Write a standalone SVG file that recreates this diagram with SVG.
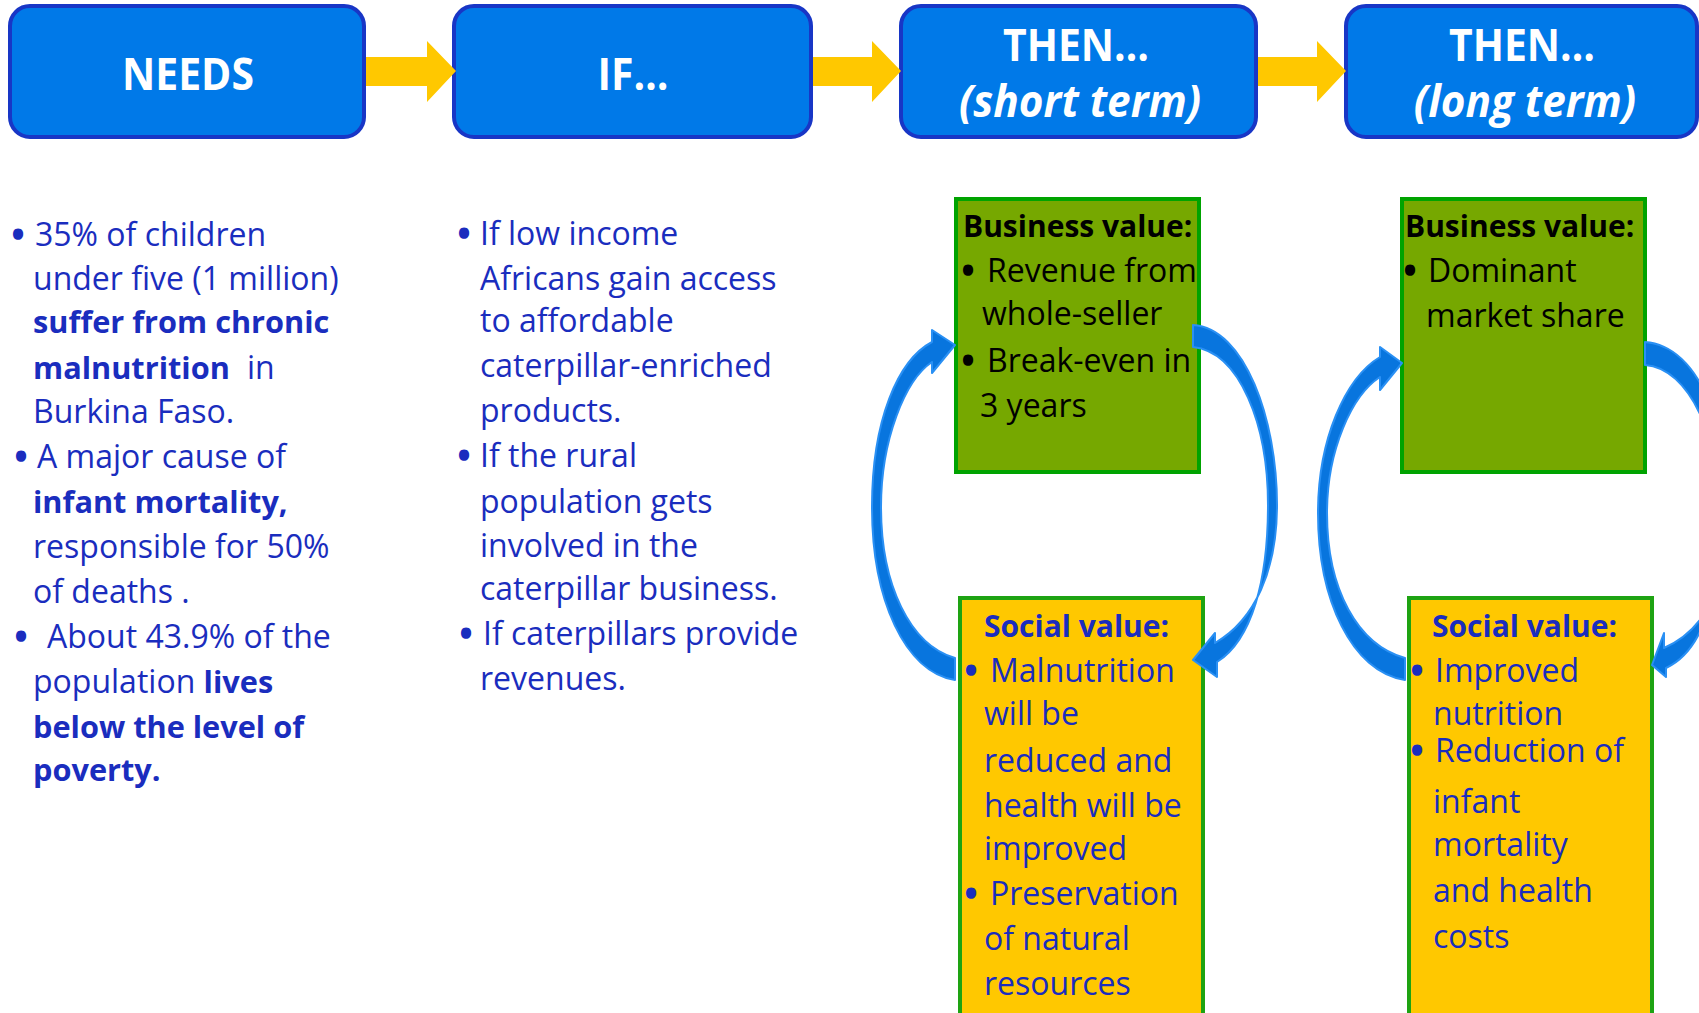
<svg xmlns="http://www.w3.org/2000/svg" width="1699" height="1013" viewBox="0 0 1699 1013">
  <style>
    .hdr { fill: #0079e8; stroke: #1836c6; stroke-width: 4; }
    .ht { font-family: "Open Sans", "Noto Sans", sans-serif; font-weight: 700; font-size: 44px; fill: #ffffff; text-anchor: middle; }
    .hti { font-style: italic; font-size: 45px; }
    .flow { fill: #ffc800; }
    .txt { font-family: "Open Sans", "Noto Sans", sans-serif; font-size: 32px; fill: #1a2dbe; }
    .b { font-weight: 700; font-size: 30.7px; }
    .bl { stroke: #1a2dbe; stroke-width: 3.5; }
    .k { fill: #000000; }
    .k .bl { stroke: #000000; }
    .ttl { font-weight: 700; font-size: 30px; }
    .biz { fill: #76a800; stroke: #00a300; stroke-width: 4; }
    .soc { fill: #ffc800; stroke: #1ea312; stroke-width: 4; }
    .cyc { fill: #0875de; stroke: #2a90f4; stroke-width: 2; stroke-linejoin: round; }
  </style>

  <!-- header row -->
  <g id="needs">
    <rect class="hdr" x="10" y="6" width="354" height="131" rx="20"/>
    <text class="ht" transform="translate(188,90) scale(0.93,1)">NEEDS</text>
  </g>
  <g id="if">
    <rect class="hdr" x="454" y="6" width="357" height="131" rx="20"/>
    <text class="ht" transform="translate(633,90) scale(0.93,1)">IF…</text>
  </g>
  <g id="then-short">
    <rect class="hdr" x="901" y="6" width="355" height="131" rx="20"/>
    <text class="ht" transform="translate(1076,61) scale(0.93,1)">THEN…</text>
    <text class="ht hti" transform="translate(1080,117) scale(0.94,1)">(short term)</text>
  </g>
  <g id="then-long">
    <rect class="hdr" x="1346" y="6" width="351" height="131" rx="20"/>
    <text class="ht" transform="translate(1522,61) scale(0.93,1)">THEN…</text>
    <text class="ht hti" transform="translate(1525,117) scale(0.94,1)">(long term)</text>
  </g>

  <!-- needs column -->
  <g id="needs-text" class="txt">
    <text x="12" y="246" class="bl">•</text>
    <text x="35" y="246">35% of children</text>
    <text x="33" y="290">under five (1 million)</text>
    <text x="33" y="333" class="b">suffer from chronic</text>
    <text x="33" y="379"><tspan class="b">malnutrition</tspan><tspan x="247">in</tspan></text>
    <text x="33" y="423">Burkina Faso.</text>
    <text x="15" y="468" class="bl">•</text>
    <text x="37" y="468">A major cause of</text>
    <text x="33" y="513" class="b">infant mortality,</text>
    <text x="33" y="558">responsible for 50%</text>
    <text x="33" y="603">of deaths .</text>
    <text x="15" y="648" class="bl">•</text>
    <text x="47" y="648">About 43.9% of the</text>
    <text x="33" y="693">population <tspan class="b">lives</tspan></text>
    <text x="33" y="738" class="b">below the level of</text>
    <text x="33" y="781" class="b">poverty.</text>
  </g>

  <!-- if column -->
  <g id="if-text" class="txt">
    <text x="458" y="245" class="bl">•</text>
    <text x="480" y="245">If low income</text>
    <text x="480" y="290">Africans gain access</text>
    <text x="480" y="332">to affordable</text>
    <text x="480" y="377">caterpillar-enriched</text>
    <text x="480" y="422">products.</text>
    <text x="458" y="467" class="bl">•</text>
    <text x="480" y="467">If the rural</text>
    <text x="480" y="513">population gets</text>
    <text x="480" y="557">involved in the</text>
    <text x="480" y="600">caterpillar business.</text>
    <text x="460" y="645" class="bl">•</text>
    <text x="483" y="645">If caterpillars provide</text>
    <text x="480" y="690">revenues.</text>
  </g>

  <!-- value boxes -->
  <g id="business-short">
    <rect class="biz" x="956" y="199" width="243" height="273"/>
    <g class="txt k">
      <text x="963" y="237" class="ttl">Business value:</text>
      <text x="962" y="282" class="bl">•</text>
      <text x="987" y="282">Revenue from</text>
      <text x="982" y="325">whole-seller</text>
      <text x="962" y="372" class="bl">•</text>
      <text x="987" y="372">Break-even in</text>
      <text x="980" y="417">3 years</text>
    </g>
  </g>
  <g id="social-short">
    <rect class="soc" x="960" y="598" width="243" height="430"/>
    <g class="txt">
      <text x="984" y="637" class="ttl">Social value:</text>
      <text x="965" y="682" class="bl">•</text>
      <text x="990" y="682">Malnutrition</text>
      <text x="984" y="725">will be</text>
      <text x="984" y="772">reduced and</text>
      <text x="984" y="817">health will be</text>
      <text x="984" y="860">improved</text>
      <text x="965" y="905" class="bl">•</text>
      <text x="990" y="905">Preservation</text>
      <text x="984" y="950">of natural</text>
      <text x="984" y="995">resources</text>
    </g>
  </g>
  <g id="business-long">
    <rect class="biz" x="1402" y="199" width="243" height="273"/>
    <g class="txt k">
      <text x="1405" y="237" class="ttl">Business value:</text>
      <text x="1404" y="282" class="bl">•</text>
      <text x="1428" y="282">Dominant</text>
      <text x="1426" y="327">market share</text>
    </g>
  </g>
  <g id="social-long">
    <rect class="soc" x="1409" y="598" width="243" height="430"/>
    <g class="txt">
      <text x="1432" y="637" class="ttl">Social value:</text>
      <text x="1411" y="682" class="bl">•</text>
      <text x="1435" y="682">Improved</text>
      <text x="1433" y="725">nutrition</text>
      <text x="1411" y="762" class="bl">•</text>
      <text x="1435" y="762">Reduction of</text>
      <text x="1433" y="813">infant</text>
      <text x="1433" y="856">mortality</text>
      <text x="1433" y="902">and health</text>
      <text x="1433" y="948">costs</text>
    </g>
  </g>

  <!-- connectors -->
  <g id="connectors">
    <!-- block arrows between header boxes -->
    <polygon class="flow" points="366,57 427,57 427,41 456,71 427,102 427,86 366,86"/>
    <polygon class="flow" points="813,57 872,57 872,41 901,71 872,102 872,86 813,86"/>
    <polygon class="flow" points="1258,57 1317,57 1317,41 1346,71 1317,102 1317,86 1258,86"/>
    <!-- short-term cycle -->
    <path class="cyc" d="M955,680 C905,672 872,600 872,507 C872,420 898,360 932,342 L932,330 L955,345 L932,373 L932,362 C905,380 881,440 881,507 C881,585 910,645 955,658 Z"/>
    <path class="cyc" d="M1193,325 C1245,328 1277,420 1277,505 C1277,570 1255,620 1215,643 L1215,633 L1193,660 L1217,677 L1217,662 C1252,640 1268,580 1268,505 C1268,425 1240,352 1193,347 Z"/>
    <!-- long-term cycle -->
    <path class="cyc" d="M1405,680 C1352,672 1318,600 1318,513 C1318,440 1345,378 1380,357 L1380,347 L1402,363 L1380,390 L1380,377 C1352,395 1327,450 1327,513 C1327,590 1358,645 1405,658 Z"/>
    <path class="cyc" d="M1645,342 C1700,346 1729,430 1729,513 C1729,585 1705,630 1664,648 L1664,633 L1652,665 L1666,677 L1666,668 C1705,650 1720,590 1720,513 C1720,440 1690,368 1645,365 Z"/>
  </g>
</svg>
